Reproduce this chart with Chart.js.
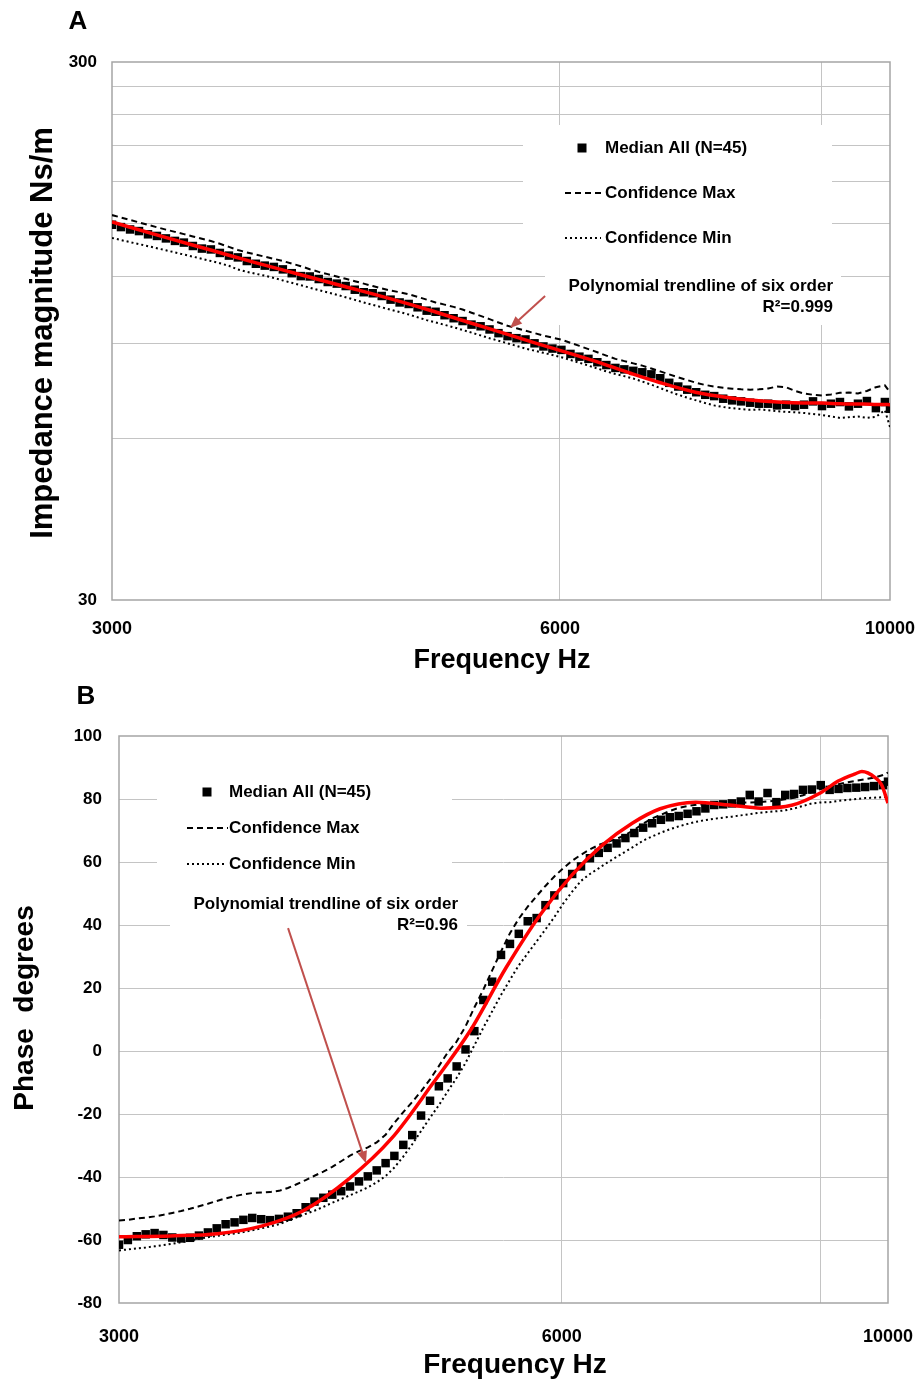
<!DOCTYPE html>
<html>
<head>
<meta charset="utf-8">
<script src="https://cdn.jsdelivr.net/npm/chart.js@4.4.0/dist/chart.umd.min.js"></script>
<style>
  html, body { margin: 0; padding: 0; background: #fff; }
  #wrap { position: relative; width: 917px; height: 1380px; }
  canvas { position: absolute; left: 0; }
</style>
</head>
<body>
<div id="wrap">
  <canvas id="chartA" width="917" height="680" style="top:0"></canvas>
  <canvas id="chartB" width="917" height="700" style="top:680px"></canvas>
</div>
<script>
// frequencies of the measured points (Hz)
const freq = [3000, 3042, 3085, 3128, 3172, 3216, 3261, 3307, 3353, 3400,
  3448, 3496, 3545, 3595, 3645, 3696, 3748, 3800, 3854, 3908,
  3962, 4018, 4074, 4131, 4189, 4248, 4307, 4368, 4429, 4491,
  4554, 4617, 4682, 4748, 4814, 4882, 4950, 5019, 5090, 5161,
  5233, 5307, 5381, 5456, 5533, 5610, 5689, 5769, 5849, 5931,
  6014, 6099, 6184, 6271, 6358, 6447, 6538, 6629, 6722, 6816,
  6912, 7008, 7106, 7206, 7307, 7409, 7513, 7618, 7725, 7833,
  7942, 8054, 8166, 8281, 8397, 8514, 8633, 8754, 8877, 9001,
  9127, 9255, 9384, 9516, 9649, 9784, 9921, 10000];

// A: impedance magnitude (Ns/m)
const medianA = [149.5, 148.0, 146.5, 145.5, 143.5, 142.5, 141.0, 139.5, 138.5, 136.5,
  135.0, 134.5, 132.5, 131.0, 130.0, 128.0, 126.5, 125.5, 124.8, 123.5,
  121.5, 120.0, 119.8, 118.5, 117.0, 116.2, 115.0, 113.2, 112.0, 111.5,
  110.2, 108.5, 107.2, 106.5, 105.0, 103.5, 103.0, 101.5, 100.2, 99.0,
  97.5, 96.8, 95.5, 94.0, 92.8, 92.0, 91.5, 90.0, 88.8, 88.0,
  87.5, 86.0, 85.0, 84.2, 83.0, 82.0, 81.0, 80.5, 80.0, 79.5,
  78.8, 77.5, 76.0, 74.8, 73.8, 73.0, 72.2, 71.8, 71.0, 70.5,
  70.2, 69.8, 69.5, 69.5, 69.0, 69.2, 68.8, 69.2, 70.2, 68.8,
  69.5, 70.0, 68.7, 69.5, 70.3, 68.2, 70.0, 68.0];
const maxA = [155.8, 154.2, 152.6, 151.0, 149.4, 147.9, 146.4, 145.0, 143.6, 142.2,
  140.8, 139.4, 137.8, 136.0, 134.2, 132.8, 131.6, 130.4, 129.2, 128.0,
  126.6, 125.2, 123.6, 122.2, 121.0, 119.8, 118.6, 117.4, 116.2, 115.0,
  113.8, 112.8, 112.0, 111.0, 109.8, 108.5, 107.2, 106.2, 105.2, 104.0,
  102.6, 101.2, 99.8, 98.4, 97.0, 96.0, 95.0, 94.0, 93.0, 92.2,
  91.4, 90.2, 89.0, 87.8, 86.6, 85.4, 84.2, 83.4, 82.6, 81.8,
  80.8, 79.8, 78.8, 77.8, 76.9, 76.0, 75.3, 74.8, 74.4, 74.1,
  73.9, 73.8, 73.9, 74.2, 74.8, 74.6, 73.4, 72.6, 72.2, 72.0,
  72.3, 72.8, 72.9, 72.6, 73.4, 74.6, 75.2, 73.0];
const minA = [141.3, 140.0, 138.8, 137.6, 136.4, 135.2, 134.0, 132.8, 131.6, 130.4,
  129.2, 128.0, 126.8, 125.4, 123.4, 122.2, 121.2, 120.2, 119.0, 117.8,
  116.6, 115.4, 114.2, 113.0, 111.9, 110.8, 109.6, 108.4, 107.2, 106.1,
  105.0, 103.9, 102.9, 101.8, 100.6, 99.4, 98.4, 97.4, 96.4, 95.3,
  94.2, 93.1, 92.0, 91.0, 90.0, 89.0, 88.0, 87.2, 86.4, 85.6,
  84.8, 83.8, 82.8, 81.8, 80.8, 79.8, 78.9, 78.2, 77.4, 76.4,
  75.4, 74.3, 73.2, 72.2, 71.3, 70.5, 69.7, 69.0, 68.5, 68.2,
  67.9, 67.7, 67.8, 67.6, 67.3, 67.1, 67.0, 66.8, 66.5, 66.2,
  65.8, 65.4, 65.6, 65.8, 65.4, 65.7, 67.6, 62.9];

// B: phase (degrees)
const medianB = [-61.5, -60.0, -58.8, -58.2, -57.8, -58.4, -59.2, -59.5, -59.3, -58.6,
  -57.6, -56.3, -55.0, -54.4, -53.6, -53.0, -53.4, -53.7, -53.3, -52.6,
  -51.5, -49.6, -47.8, -46.6, -45.6, -44.5, -43.0, -41.4, -39.8, -37.9,
  -35.6, -33.3, -29.8, -26.7, -20.5, -15.8, -11.2, -8.7, -4.9, 0.5,
  6.3, 16.2, 22.0, 30.5, 34.0, 37.2, 41.2, 42.2, 46.3, 49.4,
  53.3, 56.2, 58.6, 61.2, 62.9, 64.5, 65.9, 67.6, 69.2, 70.9,
  72.3, 73.4, 74.2, 74.6, 75.3, 76.1, 77.0, 78.1, 78.3, 78.6,
  79.2, 81.3, 79.2, 81.9, 79.0, 81.3, 81.6, 82.9, 83.0, 84.4,
  82.9, 83.2, 83.5, 83.6, 83.8, 84.1, 84.4, 85.5];
const maxB = [-53.8, -53.6, -53.2, -52.9, -52.5, -52.0, -51.4, -50.8, -50.1, -49.3,
  -48.5, -47.6, -46.8, -46.1, -45.5, -45.1, -44.9, -44.8, -44.4, -43.5,
  -42.3, -41.0, -39.6, -38.3, -36.8, -35.0, -33.2, -31.8, -30.6, -29.0,
  -26.6, -22.8, -19.4, -16.2, -12.8, -9.0, -4.8, -0.5, 3.0, 7.8,
  13.8, 19.5, 25.6, 31.6, 37.4, 42.0, 45.8, 49.2, 52.4, 55.4,
  58.0, 60.4, 62.3, 64.0, 65.4, 66.4, 67.3, 68.6, 70.2, 72.2,
  73.8, 75.0, 76.2, 77.2, 77.8, 78.2, 78.4, 78.5, 78.6, 78.7,
  78.8, 78.9, 79.0, 79.2, 79.5, 79.9, 80.4, 81.2, 82.2, 83.2,
  84.0, 84.7, 85.3, 85.8, 86.3, 86.8, 87.6, 88.4];
const minB = [-63.3, -63.0, -62.7, -62.4, -62.0, -61.6, -61.2, -60.7, -60.2, -59.6,
  -59.1, -58.7, -58.3, -57.9, -57.5, -56.9, -56.3, -55.7, -55.0, -53.9,
  -52.8, -51.7, -50.7, -49.5, -48.2, -47.0, -45.8, -44.6, -43.3, -41.7,
  -39.7, -37.0, -33.5, -29.6, -25.4, -21.2, -17.2, -12.8, -8.5, -3.8,
  1.8, 7.4, 12.6, 17.8, 22.6, 27.2, 31.0, 34.8, 38.6, 42.5,
  46.8, 50.6, 54.0, 56.2, 58.0, 59.9, 61.6, 63.3, 65.0, 66.8,
  68.1, 69.3, 70.4, 71.3, 72.1, 72.8, 73.3, 73.7, 74.1, 74.4,
  74.8, 75.2, 75.6, 75.9, 76.1, 76.4, 77.0, 77.8, 78.6, 78.9,
  79.0, 79.4, 79.7, 80.0, 80.3, 80.4, 80.6, 80.8];

// sixth order polynomial trendlines, read at these frequencies
const trendFreq = [3000, 3250, 3500, 3750, 4000, 4300, 4600, 4900, 5200, 5500, 5800, 6100, 6400,
  6700, 7000, 7400, 7800, 8200, 8600, 9000, 9250, 9500, 9600, 9800, 9900, 10000];
const trendA = [151.3, 141.9, 134.0, 127.0, 121.1, 114.8, 109.2, 103.8, 98.6, 94.0, 89.8, 86.1, 82.6,
  79.1, 76.1, 73.0, 71.3, 70.3, 69.8, 69.7, 69.5, 69.4, 69.4, 69.3, 69.3, 69.2];
const trendB = [-59.0, -58.7, -58.0, -55.6, -50.8, -40.6, -27.6, -10.5, 6.5, 26.5, 43.2, 56.0, 65.5,
  72.3, 76.9, 79.0, 78.1, 77.1, 78.0, 82.0, 85.7, 88.0, 88.7, 86.8, 84.5, 78.7];

const xTicks = [3000, 6000, 9000, 10000];
const xTickLabels = ['3000', '6000', '', '10000'];
const yTicksA = [30, 60, 90, 120, 150, 180, 210, 240, 270, 300];
const yTickLabelsA = ['30', '', '', '', '', '', '', '', '', '300'];

const FONT = '"Liberation Sans", Arial, Helvetica, sans-serif';
const GRID = '#c4c4c4';
const FRAME = '#a5a5a5';
const ARROW = '#c0504d';
const NONE = 'rgba(0,0,0,0)';

function pts(xs, ys) {
  return xs.map((x, i) => ({ x: x, y: ys[i] }));
}

function makeSets(median, max, min, trend) {
  return [
    { label: 'Polynomial trendline of six order', data: pts(trendFreq, trend), showLine: true,
      borderColor: '#ff0000', borderWidth: 3.5, pointRadius: 0, cubicInterpolationMode: 'monotone' },
    { label: 'Confidence Min', data: pts(freq, min), showLine: true,
      borderColor: '#000', borderWidth: 2, borderDash: [2, 3], pointRadius: 0 },
    { label: 'Confidence Max', data: pts(freq, max), showLine: true,
      borderColor: '#000', borderWidth: 2, borderDash: [6, 4], pointRadius: 0 },
    { label: 'Median All (N=45)', data: pts(freq, median), showLine: false,
      backgroundColor: '#000', borderColor: '#000', borderWidth: 0, pointStyle: 'rect', pointRadius: 6 }
  ];
}

function freqAxis(height, pad) {
  return {
    type: 'logarithmic', min: 3000, max: 10000,
    afterBuildTicks: s => { s.ticks = xTicks.map(v => ({ value: v })); },
    // fixed axis height, and no extra room for the end labels
    afterFit: s => { s.height = height; s.paddingLeft = 0; s.paddingRight = 0; },
    grid: { color: c => (c.tick && (c.tick.value === 6000 || c.tick.value === 9000)) ? GRID : NONE, drawTicks: false },
    border: { display: false },
    ticks: { autoSkip: false, maxRotation: 0, padding: pad, color: '#000',
      font: { family: FONT, size: 18, weight: 'bold' },
      callback: v => { const k = xTicks.indexOf(v); return k < 0 ? '' : xTickLabels[k]; } }
  };
}

function txt(ctx, s, x, y, size, align) {
  ctx.font = 'bold ' + size + 'px ' + FONT;
  ctx.textAlign = align || 'left';
  ctx.textBaseline = 'middle';
  ctx.fillStyle = '#000';
  ctx.fillText(s, x, y);
}

const decor = {
  id: 'decor',
  beforeDatasetsDraw(chart, args, o) {
    const ctx = chart.ctx, a = chart.chartArea;
    ctx.save();
    ctx.strokeStyle = FRAME;
    ctx.lineWidth = 1.5;
    ctx.strokeRect(a.left, a.top, a.right - a.left, a.bottom - a.top);
    ctx.fillStyle = '#fff';
    o.boxes.forEach(b => ctx.fillRect(b[0], b[1], b[2], b[3]));
    ctx.restore();
  },
  afterDatasetsDraw(chart, args, o) {
    const ctx = chart.ctx, L = o.legend;
    ctx.save();
    // legend entries
    ctx.fillStyle = '#000';
    ctx.fillRect(L.mark[0] - 4.5, L.mark[1] - 4.5, 9, 9);
    txt(ctx, 'Median All (N=45)', L.textX, L.mark[1], 17);
    ctx.strokeStyle = '#000';
    ctx.lineWidth = 2;
    ctx.setLineDash([6, 4]);
    ctx.beginPath(); ctx.moveTo(L.dash[0], L.dash[2]); ctx.lineTo(L.dash[1], L.dash[2]); ctx.stroke();
    txt(ctx, 'Confidence Max', L.textX, L.dash[2], 17);
    ctx.setLineDash([2, 3]);
    ctx.beginPath(); ctx.moveTo(L.dot[0], L.dot[2]); ctx.lineTo(L.dot[1], L.dot[2]); ctx.stroke();
    txt(ctx, 'Confidence Min', L.textX, L.dot[2], 17);
    ctx.setLineDash([]);
    txt(ctx, 'Polynomial trendline of six order', L.polyX, L.polyY, 17, 'right');
    txt(ctx, o.r2, L.polyX, L.polyY + 21, 17, 'right');
    // arrow pointing at the trendline
    const sx = chart.scales.x, sy = chart.scales.y;
    const x0 = sx.getPixelForValue(o.arrow[0]), y0 = sy.getPixelForValue(o.arrow[1]);
    const x1 = sx.getPixelForValue(o.arrow[2]), y1 = sy.getPixelForValue(o.arrow[3]);
    const ang = Math.atan2(y1 - y0, x1 - x0);
    ctx.strokeStyle = ARROW;
    ctx.fillStyle = ARROW;
    ctx.lineWidth = 2;
    ctx.beginPath();
    ctx.moveTo(x0, y0);
    ctx.lineTo(x1 - 9 * Math.cos(ang), y1 - 9 * Math.sin(ang));
    ctx.stroke();
    ctx.beginPath();
    ctx.moveTo(x1, y1);
    ctx.lineTo(x1 - 12 * Math.cos(ang) + 5 * Math.sin(ang), y1 - 12 * Math.sin(ang) - 5 * Math.cos(ang));
    ctx.lineTo(x1 - 12 * Math.cos(ang) - 5 * Math.sin(ang), y1 - 12 * Math.sin(ang) + 5 * Math.cos(ang));
    ctx.closePath();
    ctx.fill();
    ctx.restore();
  },
  afterDraw(chart, args, o) {
    const ctx = chart.ctx;
    ctx.save();
    txt(ctx, o.letter[0], o.letter[1], o.letter[2], 26, 'center');
    txt(ctx, 'Frequency Hz', o.xTitle[0], o.xTitle[1], o.xTitle[2], 'center');
    ctx.translate(o.yTitle[1], o.yTitle[2]);
    ctx.rotate(-Math.PI / 2);
    txt(ctx, o.yTitle[0], 0, 0, o.yTitle[3], 'center');
    ctx.restore();
  }
};

// Panel A - impedance magnitude
new Chart(document.getElementById('chartA'), {
  type: 'scatter',
  data: { datasets: makeSets(medianA, maxA, minA, trendA) },
  plugins: [decor],
  options: {
    responsive: false,
    animation: false,
    layout: { padding: { top: 62, right: 27, left: 0, bottom: 0 } },
    scales: {
      x: freqAxis(80, 18),
      y: {
        type: 'logarithmic', min: 30, max: 300,
        afterBuildTicks: s => { s.ticks = yTicksA.map(v => ({ value: v })); },
        afterFit: s => { s.width = 112; s.paddingTop = 0; s.paddingBottom = 0; },
        grid: { color: c => (c.tick && c.tick.value > 30 && c.tick.value < 300) ? GRID : NONE, drawTicks: false },
        border: { display: false },
        ticks: { autoSkip: false, padding: 15, color: '#000',
          font: { family: FONT, size: 17, weight: 'bold' },
          callback: v => { const k = yTicksA.indexOf(v); return k < 0 ? '' : yTickLabelsA[k]; } }
      }
    },
    plugins: {
      legend: { display: false },
      tooltip: { enabled: false },
      decor: {
        boxes: [[523, 125, 309, 140], [545, 265, 296, 60]],
        legend: { mark: [582, 148], textX: 605, dash: [565, 603, 193], dot: [565, 601, 238], polyX: 833, polyY: 286 },
        r2: 'R²=0.999',
        arrow: [5864, 110.2, 5554, 96.1],
        letter: ['A', 78, 22],
        xTitle: [502, 661, 27],
        yTitle: ['Impedance magnitude Ns/m', 43, 333, 31]
      }
    }
  }
});

// Panel B - phase
new Chart(document.getElementById('chartB'), {
  type: 'scatter',
  data: { datasets: makeSets(medianB, maxB, minB, trendB) },
  plugins: [decor],
  options: {
    responsive: false,
    animation: false,
    layout: { padding: { top: 56, right: 29, left: 0, bottom: 0 } },
    scales: {
      x: freqAxis(77, 23),
      y: {
        type: 'linear', min: -80, max: 100,
        afterFit: s => { s.width = 119; s.paddingTop = 0; s.paddingBottom = 0; },
        grid: { color: c => (c.tick && c.tick.value > -80 && c.tick.value < 100) ? GRID : NONE, drawTicks: false },
        border: { display: false },
        ticks: { stepSize: 20, padding: 17, color: '#000',
          font: { family: FONT, size: 17, weight: 'bold' } }
      }
    },
    plugins: {
      legend: { display: false },
      tooltip: { enabled: false },
      decor: {
        boxes: [[157, 92, 295, 113], [170, 205, 297, 55]],
        legend: { mark: [207, 112], textX: 229, dash: [187, 228, 148], dot: [187, 226, 184], polyX: 458, polyY: 224 },
        r2: 'R²=0.96',
        arrow: [3909, 39, 4416, -35.6],
        letter: ['B', 86, 17],
        xTitle: [515, 685, 28],
        yTitle: ['Phase  degrees', 25, 328, 28]
      }
    }
  }
});
</script>
</body>
</html>
